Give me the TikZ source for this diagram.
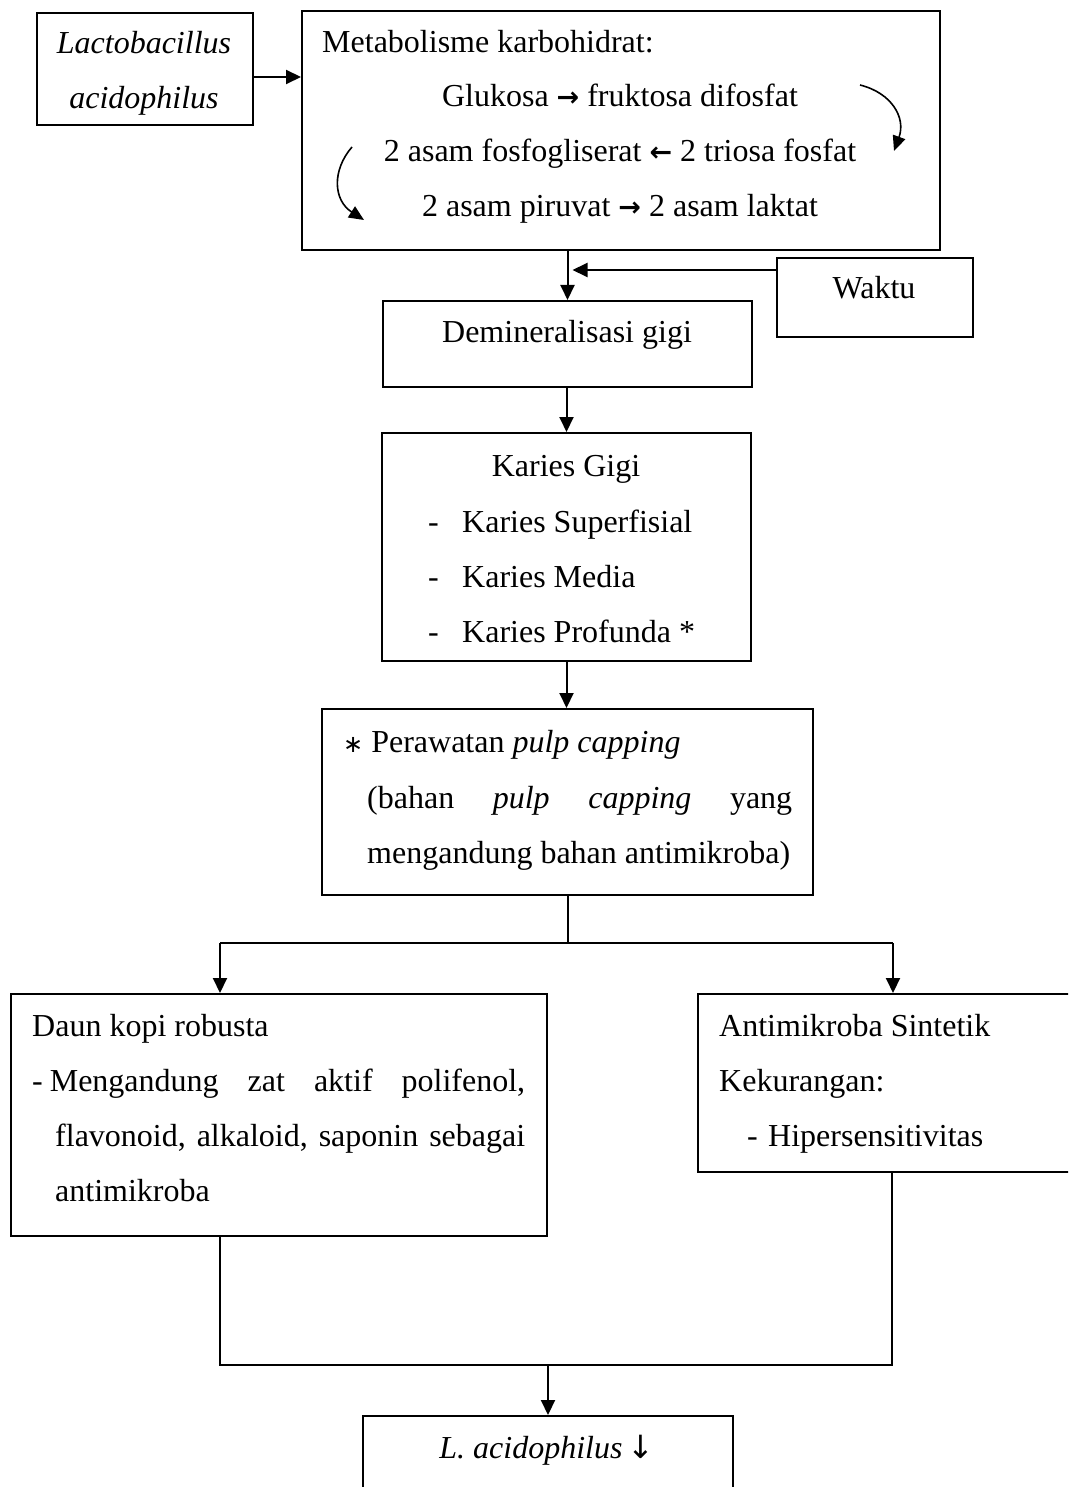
\documentclass[tikz,border=0pt]{standalone}
\usepackage{fontspec}
\setmainfont{Liberation Serif}
\newfontfamily\dejavu{DejaVu Sans}
\usetikzlibrary{arrows.meta}
\newcommand{\rarr}{{\dejavu\bfseries\fontsize{27}{30}\selectfont →}}
\newcommand{\larr}{{\dejavu\bfseries\fontsize{27}{30}\selectfont ←}}
\begin{document}
\begin{tikzpicture}[x=1pt,y=1pt,
 box/.style={draw, line width=2pt, anchor=north west, inner sep=0pt},
 txt/.style={anchor=base west, inner sep=0pt, font=\fontsize{32}{38}\selectfont},
 ctxt/.style={anchor=base, inner sep=0pt, font=\fontsize{32}{38}\selectfont},
 arr/.style={line width=2pt, -{Triangle[length=15pt,width=14pt]}},
 carr/.style={line width=1.6pt, -{Triangle[length=15pt,width=13pt]}},
 ln/.style={line width=2pt}]
\useasboundingbox (0,0) rectangle (1068,-1487);
\clip (0,0) rectangle (1068,-1487);
% boxes
\node[box, minimum width=216, minimum height=112] (lacto) at (36,-12) {};
\node[box, minimum width=638, minimum height=239] (meta) at (301,-10) {};
\node[box, minimum width=196, minimum height=79] (waktu) at (776,-257) {};
\node[box, minimum width=369, minimum height=86] (dem) at (382,-300) {};
\node[box, minimum width=369, minimum height=228] (kar) at (381,-432) {};
\node[box, minimum width=491, minimum height=186] (pera) at (321,-708) {};
\node[box, minimum width=536, minimum height=242] (daun) at (10,-993) {};
\node[box, minimum width=400, minimum height=178] (anti) at (697,-993) {};
\node[box, minimum width=370, minimum height=120] (lacd) at (362,-1415) {};
% texts
\node[ctxt] (t1) at (144,-54) {\itshape Lactobacillus};
\node[ctxt] (t2) at (144,-109) {\itshape acidophilus};
\node[txt] (m1) at (322,-53) {Metabolisme karbohidrat:};
\node[ctxt] (m2) at (620,-107) {Glukosa \rarr{} fruktosa difosfat};
\node[ctxt] (m3) at (620,-162) {2 asam fosfogliserat \larr{} 2 triosa fosfat};
\node[ctxt] (m4) at (620,-217) {2 asam piruvat \rarr{} 2 asam laktat};
\node[ctxt] (wk) at (874,-299) {Waktu};
\node[ctxt] (dm) at (567,-342) {Demineralisasi gigi};
\node[ctxt] (k0) at (566,-476) {Karies Gigi};
\node[txt] (kd1) at (428,-532) {-};
\node[txt] (k1) at (462,-532) {Karies Superfisial};
\node[txt] (kd2) at (428,-587) {-};
\node[txt] (k2) at (462,-587) {Karies Media};
\node[txt] (kd3) at (428,-642) {-};
\node[txt] (k3) at (462,-642) {Karies Profunda *};
\node[txt] (p1) at (343,-752) {{\dejavu\fontsize{24}{26}\selectfont ∗} Perawatan \textit{pulp capping}};
\node[txt] (p2) at (367,-808) {\hbox to 425pt{(bahan\hfill\textit{pulp}\hfill\textit{capping}\hfill yang}};
\node[txt] (p3) at (367,-863) {mengandung bahan antimikroba)};
\node[txt] (d1) at (32,-1036) {Daun kopi robusta};
\node[txt] (d2) at (32,-1091) {\hbox to 493pt{-\hspace{7pt}Mengandung\hfill zat\hfill aktif\hfill polifenol,}};
\node[txt] (d3) at (55,-1146) {\hbox to 470pt{flavonoid,\hfill alkaloid,\hfill saponin\hfill sebagai}};
\node[txt] (d4) at (55,-1201) {antimikroba};
\node[txt] (a1) at (719,-1036) {Antimikroba Sintetik};
\node[txt] (a2) at (719,-1091) {Kekurangan:};
\node[txt] (ad) at (747,-1146) {-};
\node[txt] (a3) at (768,-1146) {Hipersensitivitas};
\node[ctxt] (ld) at (547,-1458) {\textit{L. acidophilus}\,{\dejavu\fontsize{32}{34}\selectfont ↓}};
% connectors
\draw[arr] ([yshift=-8pt]lacto.east) coordinate (la) -- (la -| meta.west);
\draw[arr] (dem.north |- meta.south) -- (dem.north);
\draw[arr] ([yshift=-13pt]waktu.north west) coordinate (w1) -- ([xshift=5pt]w1 -| dem.north);
\draw[arr] (kar.north |- dem.south) -- (kar.north);
\draw[arr] (kar.south) -- (kar.south |- pera.north);
\coordinate (dl) at (220,-943);
\coordinate (dr) at (893,-943);
\draw[ln] (pera.south) -- (pera.south |- dl);
\draw[ln] (dl) -- (dr);
\draw[arr] (dl) -- (dl |- daun.north);
\draw[arr] (dr) -- (dr |- anti.north);
\coordinate (jl) at (220,-1365);
\coordinate (jr) at (892,-1365);
\draw[ln] (jl |- daun.south) -- (jl) -- (jr) -- (jr |- anti.south);
\draw[arr] (lacd.north |- jl) -- (lacd.north);
% curved arrows
\coordinate (cr1) at (860,-85);
\coordinate (cr2) at (894,-151);
\draw[carr] (cr1) .. controls (892,-93) and (906,-118) .. (cr2);
\coordinate (cl1) at (352,-147);
\coordinate (cl2) at (364,-220);
\draw[carr] (cl1) .. controls (332,-170) and (333,-200) .. (cl2);
\end{tikzpicture}
\end{document}
